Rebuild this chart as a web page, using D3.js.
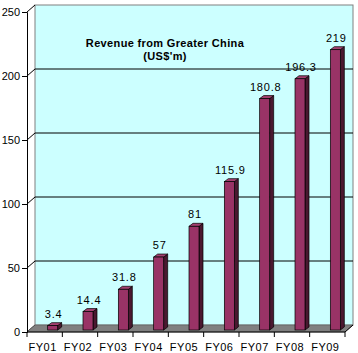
<!DOCTYPE html>
<html>
<head>
<meta charset="utf-8">
<script src="https://cdn.jsdelivr.net/npm/d3@7/dist/d3.min.js"></script>
<style>
  body { margin: 0; background: #fff; }
  text { font-family: Arial, "Liberation Sans", sans-serif; }
</style>
</head>
<body>
<div id="chart"></div>
<script>
// data
const categories = ["FY01", "FY02", "FY03", "FY04", "FY05", "FY06", "FY07", "FY08", "FY09"];
const revenue = [3.4, 14.4, 31.8, 57, 81, 115.9, 180.8, 196.3, 219];
const valueLabels = ["3.4", "14.4", "31.8", "57", "81", "115.9", "180.8", "196.3", "219"];
const yTicks = [0, 50, 100, 150, 200, 250];
const titleLines = ["Revenue from Greater China", "(US$'m)"];

const W = 358, H = 353;
const plotL = 27, plotR = 345, plotB = 332, plotT = 12;
const dx = 8, dy = -7;       // depth of the 3D box
const bdx = 4, bdy = -3;     // depth of each bar

const svg = d3.select("#chart").append("svg")
    .attr("width", W).attr("height", H);

const x = d3.scaleBand().domain(categories).range([plotL, plotR]);
const y = d3.scaleLinear().domain([0, 250]).range([plotB, plotT]);

/* ---- left side wall (white) + back wall ---- */
svg.append("polygon")
    .attr("points", [[plotL, plotT], [plotL + dx, plotT + dy], [plotL + dx, plotB + dy], [plotL, plotB]].join(" "))
    .attr("fill", "#fff");

svg.append("rect")
    .attr("x", plotL + dx).attr("y", plotT + dy)
    .attr("width", plotR - plotL).attr("height", plotB - plotT)
    .attr("fill", "#ccffff")
    .attr("stroke", "#808080");

// gridlines on back wall + diagonal connectors
yTicks.filter(t => t > 0 && t < 250).forEach(t => {
    svg.append("line")
        .attr("x1", plotL + dx).attr("x2", plotR + dx)
        .attr("y1", y(t) + dy).attr("y2", y(t) + dy)
        .attr("stroke", "#000");
});
yTicks.forEach(t => {
    svg.append("line")
        .attr("x1", plotL).attr("y1", y(t))
        .attr("x2", plotL + dx).attr("y2", y(t) + dy)
        .attr("stroke", "#000");
});

/* ---- floor ---- */
svg.append("polygon")
    .attr("points", [[plotL, plotB], [plotR, plotB], [plotR + dx, plotB + dy], [plotL + dx, plotB + dy]].join(" "))
    .attr("fill", "#808080")
    .attr("stroke", "#555")
    .attr("stroke-width", 0.6);

/* ---- bars ---- */
const barW = 10;
const base = plotB - 2;
const barX = c => x(c) + x.bandwidth() / 2 + 3;
const bars = svg.append("g");

categories.forEach((c, i) => {
    const x0 = barX(c), x1 = x0 + barW;
    const yt = base - (plotB - y(revenue[i]));
    // side
    bars.append("polygon")
        .attr("points", [[x1, yt], [x1 + bdx, yt + bdy], [x1 + bdx, base + bdy], [x1, base]].join(" "))
        .attr("fill", "#4a1830").attr("stroke", "#000").attr("stroke-width", 0.7);
    // top
    bars.append("polygon")
        .attr("points", [[x0, yt], [x0 + bdx, yt + bdy], [x1 + bdx, yt + bdy], [x1, yt]].join(" "))
        .attr("fill", "#a34070").attr("stroke", "#000").attr("stroke-width", 0.7);
    // front
    bars.append("rect")
        .attr("x", x0).attr("y", yt)
        .attr("width", barW).attr("height", base - yt)
        .attr("fill", "#993366").attr("stroke", "#000").attr("stroke-width", 0.7);
    // value label
    svg.append("text")
        .attr("x", x0 + barW / 2 + 1).attr("y", yt - 8)
        .attr("text-anchor", "middle")
        .attr("font-size", 11)
        .attr("letter-spacing", 0.8)
        .text(valueLabels[i]);
});

/* ---- axes ---- */
const yAxis = svg.append("g")
    .attr("transform", `translate(${plotL},0)`)
    .call(d3.axisLeft(y).tickValues(yTicks).tickSize(5).tickPadding(2));
yAxis.select(".domain").attr("stroke", "#000");
yAxis.selectAll("text")
    .attr("font-size", 11)
    .attr("font-family", "Arial, 'Liberation Sans', sans-serif")
    .attr("fill", "#000");

const xAxis = svg.append("g")
    .attr("transform", `translate(0,${plotB})`);
xAxis.append("line")
    .attr("x1", plotL).attr("x2", plotR)
    .attr("stroke", "#000");
xAxis.append("line")
    .attr("x1", plotR).attr("y1", 0).attr("x2", plotR + dx).attr("y2", dy)
    .attr("stroke", "#000");
categories.forEach(c => {
    xAxis.append("line")
        .attr("x1", x(c) + x.bandwidth()).attr("x2", x(c) + x.bandwidth())
        .attr("y1", 0).attr("y2", 5)
        .attr("stroke", "#000");
    xAxis.append("text")
        .attr("x", x(c) + x.bandwidth() / 2 - 2)
        .attr("y", 19)
        .attr("text-anchor", "middle")
        .attr("font-size", 11)
        .attr("letter-spacing", 0.5)
        .text(c);
});
xAxis.append("line").attr("x1", plotL).attr("x2", plotL).attr("y1", 0).attr("y2", 5).attr("stroke", "#000");

/* ---- title ---- */
svg.append("g").selectAll("text")
    .data(titleLines).join("text")
    .attr("x", 165)
    .attr("y", (d, i) => 47 + i * 13)
    .attr("text-anchor", "middle")
    .attr("font-size", 11)
    .attr("font-weight", "bold")
    .attr("letter-spacing", 0.35)
    .text(d => d);
</script>
</body>
</html>
